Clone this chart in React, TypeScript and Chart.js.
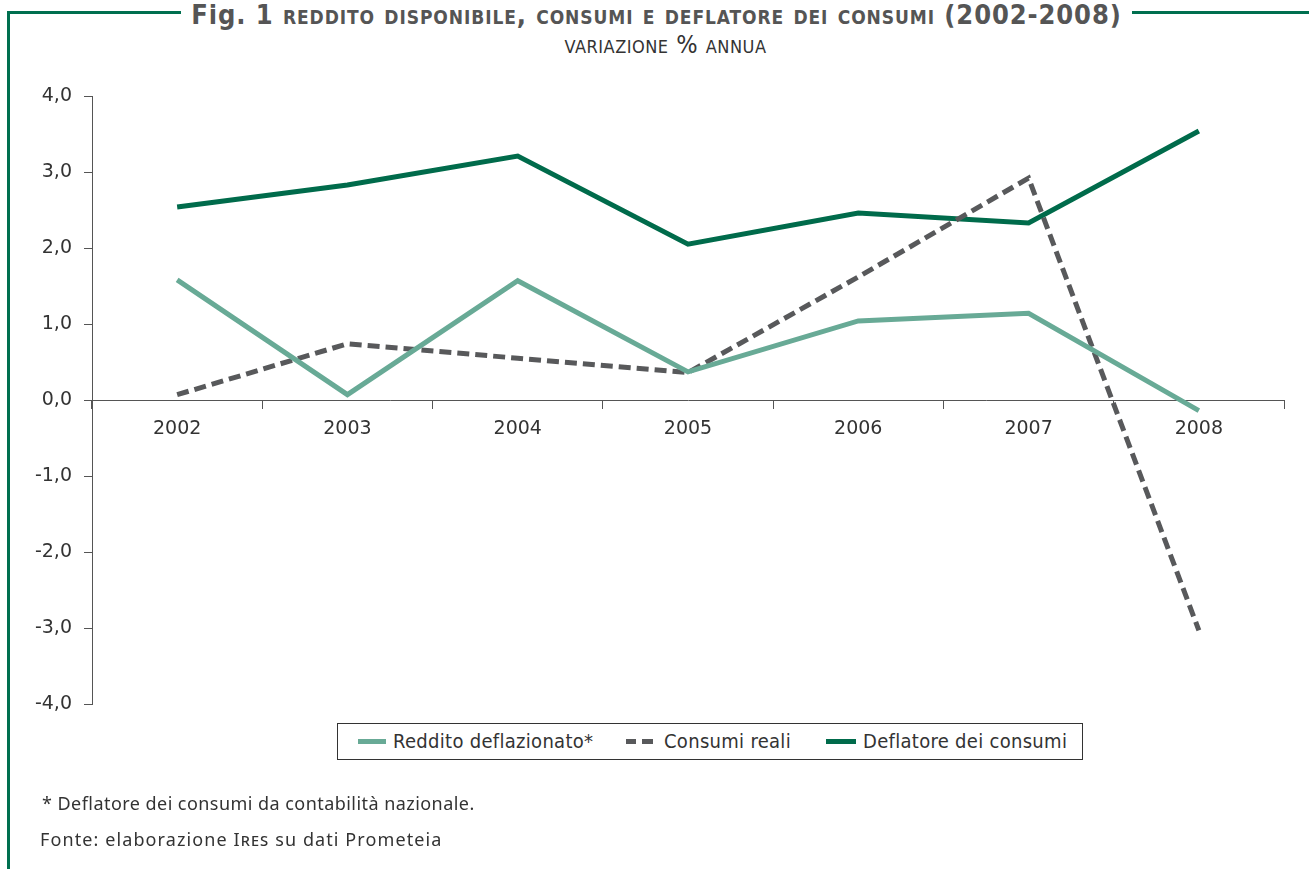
import React, { useEffect, useRef } from "react";
import { Chart, registerables } from "chart.js";

Chart.register(...registerables);

const years = ["2002", "2003", "2004", "2005", "2006", "2007", "2008"];
const redditoDeflazionato = [1.58, 0.07, 1.57, 0.37, 1.04, 1.14, -0.14];
const consumiReali = [0.07, 0.74, 0.55, 0.36, 1.62, 2.92, -3.03];
const deflatoreConsumi = [2.54, 2.83, 3.21, 2.05, 2.46, 2.33, 3.54];
const yTicks = [-4, -3, -2, -1, 0, 1, 2, 3, 4];

const seriesNames = ["Reddito deflazionato*", "Consumi reali", "Deflatore dei consumi"];
const colReddito = "#68aa96";
const colConsumi = "#58595b";
const colDeflatore = "#006b4b";
const frameGreen = "#006f4f";

const tickFont = { family: "'DejaVu Sans', sans-serif", size: 19 };

export default function App() {
  const canvasRef = useRef<HTMLCanvasElement | null>(null);

  useEffect(() => {
    if (!canvasRef.current) return;
    const chart = new Chart(canvasRef.current, {
      type: "line",
      data: {
        labels: years,
        datasets: [
          {
            label: seriesNames[0],
            data: redditoDeflazionato,
            borderColor: colReddito,
            borderWidth: 5,
            pointRadius: 0,
            tension: 0,
            borderJoinStyle: "miter",
          },
          {
            label: seriesNames[1],
            data: consumiReali,
            borderColor: colConsumi,
            borderWidth: 5,
            borderDash: [12, 6],
            pointRadius: 0,
            tension: 0,
            borderJoinStyle: "miter",
          },
          {
            label: seriesNames[2],
            data: deflatoreConsumi,
            borderColor: colDeflatore,
            borderWidth: 5,
            pointRadius: 0,
            tension: 0,
            borderJoinStyle: "miter",
          },
        ],
      },
      options: {
        animation: false,
        responsive: false,
        maintainAspectRatio: false,
        layout: { padding: { left: 0, top: 96, right: 25, bottom: 165 } },
        plugins: {
          legend: { display: false },
          tooltip: { enabled: false },
          title: { display: false },
        },
        scales: {
          x: {
            type: "category",
            position: { y: 0 } as any,
            offset: true,
            afterFit: (s: any) => {
              s.height = 0;
            },
            grid: {
              offset: true,
              drawOnChartArea: false,
              drawTicks: true,
              tickLength: 8,
              color: "#555",
            },
            border: { display: true, color: "#555", width: 1 },
            ticks: {
              color: "#333",
              font: tickFont,
              padding: 10,
              maxRotation: 0,
              autoSkip: false,
            },
          },
          y: {
            min: -4,
            max: 4,
            afterFit: (s: any) => {
              s.width = 92;
            },
            afterBuildTicks: (s: any) => {
              s.ticks = yTicks.map((v) => ({ value: v }));
            },
            grid: {
              drawOnChartArea: false,
              drawTicks: true,
              tickLength: 8,
              color: "#555",
            },
            border: { display: true, color: "#555", width: 1 },
            ticks: {
              color: "#333",
              font: tickFont,
              padding: 12,
              callback: (v: any) => Number(v).toFixed(1).replace(".", ","),
            },
          },
        },
      },
    });
    return () => chart.destroy();
  }, []);

  const condensed = "'Liberation Sans Narrow', 'DejaVu Sans Condensed', sans-serif";
  const humanist = "'Noto Sans', 'Open Sans', sans-serif";

  const legendText: React.CSSProperties = {
    position: "absolute",
    top: 0,
    lineHeight: "35px",
    fontFamily: condensed,
    fontSize: 20,
    letterSpacing: "0.3px",
    color: "#333",
    whiteSpace: "nowrap",
  };

  return (
    <div
      style={{
        position: "fixed",
        left: 0,
        top: 0,
        width: 1309,
        height: 869,
        background: "#fff",
        overflow: "hidden",
      }}
    >
      {/* frame */}
      <div
        style={{
          position: "absolute",
          left: 7,
          top: 11,
          width: 1309,
          height: 900,
          borderTop: `3px solid ${frameGreen}`,
          borderLeft: `3px solid ${frameGreen}`,
          boxSizing: "border-box",
        }}
      />
      {/* title */}
      <div
        style={{
          position: "absolute",
          left: 0,
          width: 1309,
          top: -1,
          textAlign: "center",
          paddingLeft: 4,
          boxSizing: "border-box",
        }}
      >
        <span
          style={{
            display: "inline-block",
            background: "#fff",
            padding: "0 10px",
            fontFamily: condensed,
            fontWeight: "bold",
            fontSize: 27,
            letterSpacing: "0.9px",
            lineHeight: "32px",
            color: "#555",
            whiteSpace: "nowrap",
          }}
        >
          Fig. 1{" "}
          <span style={{ fontVariant: "small-caps" }}>
            reddito disponibile, consumi e deflatore dei consumi
          </span>{" "}
          (2002-2008)
        </span>
      </div>
      <div
        style={{
          position: "absolute",
          left: 0,
          width: 1309,
          top: 32,
          textAlign: "center",
          paddingLeft: 22,
          boxSizing: "border-box",
          fontFamily: condensed,
          fontSize: 25,
          letterSpacing: "0.5px",
          lineHeight: "26px",
          color: "#333",
          fontVariant: "small-caps",
        }}
      >
        variazione % annua
      </div>

      <canvas
        ref={canvasRef}
        width={1309}
        height={869}
        style={{ position: "absolute", left: 0, top: 0, width: 1309, height: 869 }}
      />

      {/* legend */}
      <div
        style={{
          position: "absolute",
          left: 337,
          top: 723,
          width: 746,
          height: 37,
          border: "1px solid #333",
          boxSizing: "border-box",
          background: "#fff",
        }}
      >
        <div
          style={{
            position: "absolute",
            left: 20,
            top: 15,
            width: 28,
            height: 5,
            background: colReddito,
          }}
        />
        <div style={{ ...legendText, left: 55 }}>{seriesNames[0]}</div>
        <div
          style={{
            position: "absolute",
            left: 288,
            top: 15,
            width: 10,
            height: 5,
            background: colConsumi,
          }}
        />
        <div
          style={{
            position: "absolute",
            left: 304,
            top: 15,
            width: 11,
            height: 5,
            background: colConsumi,
          }}
        />
        <div style={{ ...legendText, left: 326 }}>{seriesNames[1]}</div>
        <div
          style={{
            position: "absolute",
            left: 488,
            top: 15,
            width: 30,
            height: 5,
            background: colDeflatore,
          }}
        />
        <div style={{ ...legendText, left: 525 }}>{seriesNames[2]}</div>
      </div>

      {/* footnotes */}
      <div
        style={{
          position: "absolute",
          left: 42,
          top: 791,
          fontFamily: humanist,
          fontSize: 18,
          letterSpacing: "0.45px",
          lineHeight: "24px",
          color: "#333",
          whiteSpace: "nowrap",
        }}
      >
        * Deflatore dei consumi da contabilità nazionale.
      </div>
      <div
        style={{
          position: "absolute",
          left: 40,
          top: 827,
          fontFamily: humanist,
          fontSize: 18,
          letterSpacing: "1.1px",
          lineHeight: "24px",
          color: "#333",
          whiteSpace: "nowrap",
        }}
      >
        Fonte: elaborazione I<span style={{ fontVariant: "small-caps" }}>res</span> su dati Prometeia
      </div>
    </div>
  );
}
